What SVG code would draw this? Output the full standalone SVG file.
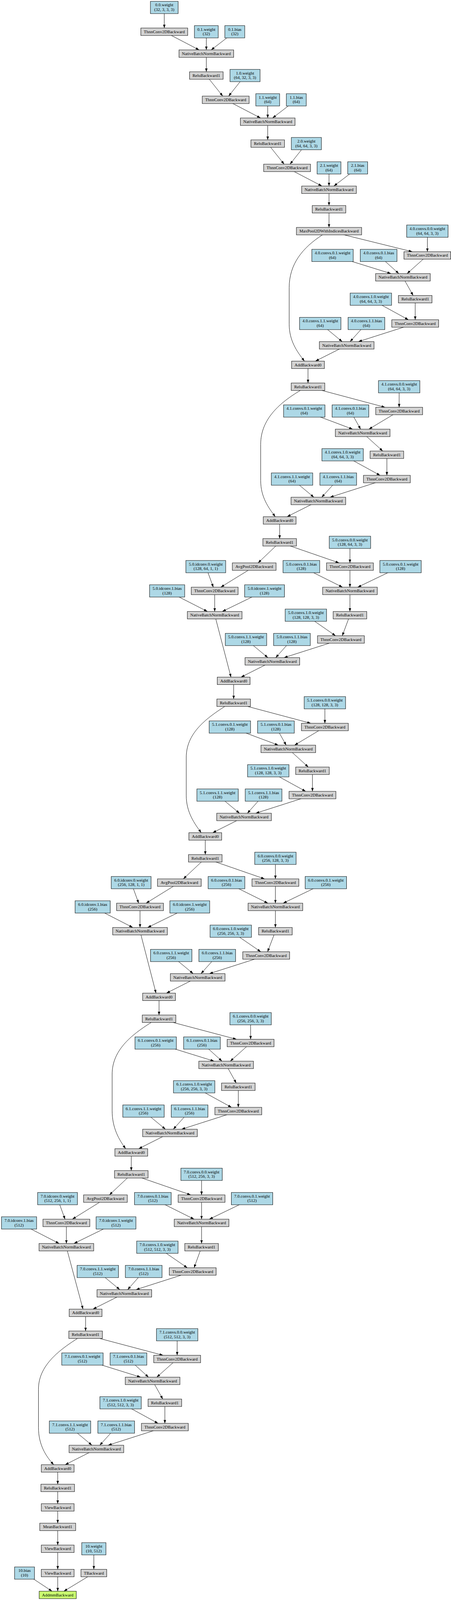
<svg xmlns="http://www.w3.org/2000/svg" width="1155" height="4392" viewBox="0 0 1155 4392">
<style>
.n rect{stroke:#000;stroke-width:1}
.g rect{fill:#d3d3d3}
.b rect{fill:#add8e6}
.o rect{fill:#caff70}
text{font-family:"Liberation Serif","Times New Roman",serif;font-size:11px;text-anchor:middle;fill:#000}
#edges path{fill:none;stroke:#000;stroke-width:1;marker-end:url(#arr)}
</style>
<defs>
<marker id="arr" markerUnits="userSpaceOnUse" markerWidth="9.2" markerHeight="6.4" viewBox="0 0 9.2 6.4" refX="9.2" refY="3.2" orient="auto"><path d="M0,0 L9.2,3.2 L0,6.4 z" fill="#000"/></marker>
</defs>
<rect width="1155" height="4392" fill="#fff"/>
<g id="diagram" transform="matrix(1,0,0,0.9322,0,0)">
<g id="edges">
<path d="M420.7,20.55 L420.7,77"/>
<path d="M420.7,87.25 L510,137.1"/>
<path d="M528.4,87.25 L528.4,137.1"/>
<path d="M601.3,87.25 L540.8,137.1"/>
<path d="M528.4,147.35 L528.4,197.2"/>
<path d="M528.4,207.45 L570.4,263.9"/>
<path d="M627.5,207.45 L585.6,263.9"/>
<path d="M578,274.15 L667.2,324"/>
<path d="M685.6,274.15 L685.6,324"/>
<path d="M758.8,274.15 L698.1,324"/>
<path d="M685.6,334.25 L685.6,384.1"/>
<path d="M685.6,394.35 L727.6,450.8"/>
<path d="M784.6,394.35 L742.8,450.8"/>
<path d="M735.2,461.05 L824.3,510.9"/>
<path d="M842.6,461.05 L842.6,510.9"/>
<path d="M916,461.05 L855.1,510.9"/>
<path d="M842.6,521.15 L842.6,564.4"/>
<path d="M842.6,574.65 L842.6,624.5"/>
<path d="M842.6,634.75 L1055.8,691.2"/>
<path d="M1094.5,634.75 L1094.5,691.2"/>
<path d="M1094.5,701.45 L1042.6,751.3"/>
<path d="M851.6,701.45 L1001.2,751.3"/>
<path d="M969.7,701.45 L1021.3,751.3"/>
<path d="M1031.9,761.55 L1058,811.4"/>
<path d="M1063.3,821.65 L1063.3,878.1"/>
<path d="M949.8,821.65 L1045.9,878.1"/>
<path d="M1063.3,888.35 L917.8,938.2"/>
<path d="M820.1,888.35 L876.3,938.2"/>
<path d="M938.4,888.35 L896.5,938.2"/>
<path d="M887.9,948.45 L807.8,991.7"/>
<path d="M826,644.8 C775,680 740.6,725 740.6,790 L740.6,890 C740.6,935 760,965 779.7,991.7"/>
<path d="M788.8,1001.95 L788.8,1051.8"/>
<path d="M788.8,1062.05 L986.3,1118.5"/>
<path d="M1022.2,1062.05 L1022.2,1118.5"/>
<path d="M1022.2,1128.75 L944.7,1178.6"/>
<path d="M779.2,1128.75 L903.3,1178.6"/>
<path d="M897.5,1128.75 L923.5,1178.6"/>
<path d="M928.8,1188.85 L980.2,1238.7"/>
<path d="M990.8,1248.95 L990.8,1305.4"/>
<path d="M877.4,1248.95 L973.4,1305.4"/>
<path d="M990.8,1315.65 L845.2,1365.5"/>
<path d="M747.9,1315.65 L803.8,1365.5"/>
<path d="M866.2,1315.65 L824,1365.5"/>
<path d="M815.3,1375.75 L735.2,1419"/>
<path d="M769,1072.3 C718,1105 667.6,1150 667.6,1220 L667.6,1320 C667.6,1365 688,1395 705,1419"/>
<path d="M716.2,1429.25 L716.2,1479.1"/>
<path d="M716.2,1489.35 L661,1545.8"/>
<path d="M716.2,1489.35 L868.5,1545.8"/>
<path d="M896.2,1489.35 L896.2,1545.8"/>
<path d="M651,1556.05 L565.4,1612.5"/>
<path d="M527,1556.05 L546.3,1612.5"/>
<path d="M896.2,1556.05 L896.2,1612.5"/>
<path d="M771.8,1556.05 L877.1,1612.5"/>
<path d="M1025.8,1556.05 L916.1,1612.5"/>
<path d="M549.8,1622.75 L549.8,1679.2"/>
<path d="M428,1622.75 L531.1,1679.2"/>
<path d="M677.5,1622.75 L569.4,1679.2"/>
<path d="M896.2,1622.75 L896.2,1679.2"/>
<path d="M896.2,1689.45 L876.6,1745.9"/>
<path d="M783.3,1689.45 L859.3,1745.9"/>
<path d="M873.1,1756.15 L727.4,1806"/>
<path d="M630,1756.15 L686,1806"/>
<path d="M747.7,1756.15 L706.1,1806"/>
<path d="M697.5,1816.25 L617.4,1859.5"/>
<path d="M552.6,1699.7 L591.5,1859.5"/>
<path d="M598.4,1869.75 L598.4,1919.6"/>
<path d="M598.4,1929.85 L796.1,1986.3"/>
<path d="M832,1929.85 L832,1986.3"/>
<path d="M832,1996.55 L754.3,2046.4"/>
<path d="M588.7,1996.55 L712.8,2046.4"/>
<path d="M706.7,1996.55 L732.9,2046.4"/>
<path d="M738.3,2056.65 L789.6,2106.5"/>
<path d="M800.2,2116.75 L800.2,2173.2"/>
<path d="M687,2116.75 L782.8,2173.2"/>
<path d="M800.2,2183.45 L654.9,2233.3"/>
<path d="M557.2,2183.45 L613.4,2233.3"/>
<path d="M675,2183.45 L633.5,2233.3"/>
<path d="M625,2243.55 L544.7,2286.8"/>
<path d="M575.6,1940.1 C525,1975 477,2015 477,2080 L477,2185 C477,2230 498,2262 515.4,2286.8"/>
<path d="M525.7,2297.05 L525.7,2346.9"/>
<path d="M525.7,2357.15 L469.5,2413.6"/>
<path d="M525.7,2357.15 L677.7,2413.6"/>
<path d="M705.3,2357.15 L705.3,2413.6"/>
<path d="M459.3,2423.85 L374.1,2480.3"/>
<path d="M335.9,2423.85 L355.1,2480.3"/>
<path d="M705.3,2423.85 L705.3,2480.3"/>
<path d="M580,2423.85 L686,2480.3"/>
<path d="M834.5,2423.85 L725.2,2480.3"/>
<path d="M358.6,2490.55 L358.6,2547"/>
<path d="M237.3,2490.55 L340,2547"/>
<path d="M486,2490.55 L378.2,2547"/>
<path d="M705.3,2490.55 L705.3,2547"/>
<path d="M705.3,2557.25 L685.3,2613.7"/>
<path d="M591,2557.25 L667.8,2613.7"/>
<path d="M681.7,2623.95 L536.2,2673.8"/>
<path d="M438.5,2623.95 L494.7,2673.8"/>
<path d="M556.3,2623.95 L514.8,2673.8"/>
<path d="M506.3,2684.05 L426.3,2727.3"/>
<path d="M361,2567.5 L399.5,2727.3"/>
<path d="M407.3,2737.55 L407.3,2787.4"/>
<path d="M407.3,2797.65 L605.8,2854.1"/>
<path d="M641.8,2797.65 L641.8,2854.1"/>
<path d="M641.8,2864.35 L589.8,2914.2"/>
<path d="M398.7,2864.35 L548.3,2914.2"/>
<path d="M517.2,2864.35 L568.5,2914.2"/>
<path d="M579.1,2924.45 L605,2974.3"/>
<path d="M610.3,2984.55 L610.3,3041"/>
<path d="M497.2,2984.55 L592.9,3041"/>
<path d="M610.3,3051.25 L465.1,3101.1"/>
<path d="M367.5,3051.25 L423.7,3101.1"/>
<path d="M485.5,3051.25 L443.9,3101.1"/>
<path d="M435.3,3111.35 L355.2,3154.6"/>
<path d="M387.2,2807.9 C335,2843 287.2,2885 287.2,2950 L287.2,3050 C287.2,3098 305,3130 321.8,3154.6"/>
<path d="M336.2,3164.85 L336.2,3214.7"/>
<path d="M336.2,3224.95 L280.2,3281.4"/>
<path d="M336.2,3224.95 L488.5,3281.4"/>
<path d="M516.2,3224.95 L516.2,3281.4"/>
<path d="M270,3291.65 L185.4,3348.1"/>
<path d="M147.3,3291.65 L166.5,3348.1"/>
<path d="M516.2,3291.65 L516.2,3348.1"/>
<path d="M391.4,3291.65 L497,3348.1"/>
<path d="M645.5,3291.65 L536.1,3348.1"/>
<path d="M170,3358.35 L170,3414.8"/>
<path d="M48.8,3358.35 L151.4,3414.8"/>
<path d="M297.1,3358.35 L189.5,3414.8"/>
<path d="M516.2,3358.35 L516.2,3414.8"/>
<path d="M516.2,3425.05 L497,3481.5"/>
<path d="M403,3425.05 L479.6,3481.5"/>
<path d="M493.5,3491.75 L348.3,3541.6"/>
<path d="M250.4,3491.75 L306.8,3541.6"/>
<path d="M368,3491.75 L326.9,3541.6"/>
<path d="M318.4,3551.85 L238.2,3595.1"/>
<path d="M172.5,3435.3 L212.5,3595.1"/>
<path d="M219.2,3605.35 L219.2,3655.2"/>
<path d="M219.2,3665.45 L417.7,3721.9"/>
<path d="M453.7,3665.45 L453.7,3721.9"/>
<path d="M453.7,3732.15 L401.5,3782"/>
<path d="M211.1,3732.15 L360.2,3782"/>
<path d="M329,3732.15 L380.3,3782"/>
<path d="M390.8,3792.25 L416.8,3842.1"/>
<path d="M422.2,3852.35 L422.2,3908.8"/>
<path d="M308.8,3852.35 L404.8,3908.8"/>
<path d="M422.2,3919.05 L276.8,3968.9"/>
<path d="M179.3,3919.05 L235.4,3968.9"/>
<path d="M297.6,3919.05 L255.5,3968.9"/>
<path d="M246.9,3979.15 L166.8,4022.4"/>
<path d="M198.4,3675.7 C148,3710 98.5,3752 98.5,3815 L98.5,3920 C98.5,3968 118,4000 137.6,4022.4"/>
<path d="M147.8,4032.65 L147.8,4075.9"/>
<path d="M147.8,4086.15 L147.8,4129.4"/>
<path d="M147.8,4139.65 L147.8,4182.9"/>
<path d="M147.8,4193.15 L147.8,4243"/>
<path d="M147.8,4253.25 L147.8,4309.7"/>
<path d="M240.3,4253.25 L240.3,4309.7"/>
<path d="M147.8,4319.95 L147.8,4369.8"/>
<path d="M240.3,4319.95 L163.6,4369.8"/>
<path d="M62.8,4319.95 L133.3,4369.8"/>
</g>
<g id="nodes">
<g id="n00" class="n b" transform="translate(420.7,20.55)"><rect x="-35.5" y="-16.85" width="71" height="33.7"/><text y="-3">0.0.weight</text><text y="9.6">(32, 3, 3, 3)</text></g>
<g id="n01" class="n g" transform="translate(420.7,87.25)"><rect x="-60" y="-10.25" width="120" height="20.5"/><text y="3.8">ThnnConv2DBackward</text></g>
<g id="n02" class="n b" transform="translate(528.4,87.25)"><rect x="-30.5" y="-16.85" width="61" height="33.7"/><text y="-3">0.1.weight</text><text y="9.6">(32)</text></g>
<g id="n03" class="n b" transform="translate(601.3,87.25)"><rect x="-25.5" y="-16.85" width="51" height="33.7"/><text y="-3">0.1.bias</text><text y="9.6">(32)</text></g>
<g id="n04" class="n g" transform="translate(528.4,147.35)"><rect x="-70" y="-10.25" width="140" height="20.5"/><text y="3.8">NativeBatchNormBackward</text></g>
<g id="n05" class="n g" transform="translate(528.4,207.45)"><rect x="-43" y="-10.25" width="86" height="20.5"/><text y="3.8">ReluBackward1</text></g>
<g id="n06" class="n b" transform="translate(627.5,207.45)"><rect x="-38.5" y="-16.85" width="77" height="33.7"/><text y="-3">1.0.weight</text><text y="9.6">(64, 32, 3, 3)</text></g>
<g id="n07" class="n g" transform="translate(578,274.15)"><rect x="-60" y="-10.25" width="120" height="20.5"/><text y="3.8">ThnnConv2DBackward</text></g>
<g id="n08" class="n b" transform="translate(685.6,274.15)"><rect x="-30.5" y="-16.85" width="61" height="33.7"/><text y="-3">1.1.weight</text><text y="9.6">(64)</text></g>
<g id="n09" class="n b" transform="translate(758.8,274.15)"><rect x="-25.5" y="-16.85" width="51" height="33.7"/><text y="-3">1.1.bias</text><text y="9.6">(64)</text></g>
<g id="n10" class="n g" transform="translate(685.6,334.25)"><rect x="-70" y="-10.25" width="140" height="20.5"/><text y="3.8">NativeBatchNormBackward</text></g>
<g id="n11" class="n g" transform="translate(685.6,394.35)"><rect x="-43" y="-10.25" width="86" height="20.5"/><text y="3.8">ReluBackward1</text></g>
<g id="n12" class="n b" transform="translate(784.6,394.35)"><rect x="-38.5" y="-16.85" width="77" height="33.7"/><text y="-3">2.0.weight</text><text y="9.6">(64, 64, 3, 3)</text></g>
<g id="n13" class="n g" transform="translate(735.2,461.05)"><rect x="-60" y="-10.25" width="120" height="20.5"/><text y="3.8">ThnnConv2DBackward</text></g>
<g id="n14" class="n b" transform="translate(842.6,461.05)"><rect x="-30.5" y="-16.85" width="61" height="33.7"/><text y="-3">2.1.weight</text><text y="9.6">(64)</text></g>
<g id="n15" class="n b" transform="translate(916,461.05)"><rect x="-25.5" y="-16.85" width="51" height="33.7"/><text y="-3">2.1.bias</text><text y="9.6">(64)</text></g>
<g id="n16" class="n g" transform="translate(842.6,521.15)"><rect x="-70" y="-10.25" width="140" height="20.5"/><text y="3.8">NativeBatchNormBackward</text></g>
<g id="n17" class="n g" transform="translate(842.6,574.65)"><rect x="-43" y="-10.25" width="86" height="20.5"/><text y="3.8">ReluBackward1</text></g>
<g id="n18" class="n g" transform="translate(842.6,634.75)"><rect x="-83.5" y="-10.25" width="167" height="20.5"/><text y="3.8">MaxPool2DWithIndicesBackward</text></g>
<g id="n19" class="n b" transform="translate(1094.5,634.75)"><rect x="-53" y="-16.85" width="106" height="33.7"/><text y="-3">4.0.convs.0.0.weight</text><text y="9.6">(64, 64, 3, 3)</text></g>
<g id="n20" class="n g" transform="translate(1094.5,701.45)"><rect x="-60" y="-10.25" width="120" height="20.5"/><text y="3.8">ThnnConv2DBackward</text></g>
<g id="n21" class="n b" transform="translate(851.6,701.45)"><rect x="-53" y="-16.85" width="106" height="33.7"/><text y="-3">4.0.convs.0.1.weight</text><text y="9.6">(64)</text></g>
<g id="n22" class="n b" transform="translate(969.7,701.45)"><rect x="-47" y="-16.85" width="94" height="33.7"/><text y="-3">4.0.convs.0.1.bias</text><text y="9.6">(64)</text></g>
<g id="n23" class="n g" transform="translate(1031.9,761.55)"><rect x="-70" y="-10.25" width="140" height="20.5"/><text y="3.8">NativeBatchNormBackward</text></g>
<g id="n24" class="n g" transform="translate(1063.3,821.65)"><rect x="-43" y="-10.25" width="86" height="20.5"/><text y="3.8">ReluBackward1</text></g>
<g id="n25" class="n b" transform="translate(949.8,821.65)"><rect x="-53" y="-16.85" width="106" height="33.7"/><text y="-3">4.0.convs.1.0.weight</text><text y="9.6">(64, 64, 3, 3)</text></g>
<g id="n26" class="n g" transform="translate(1063.3,888.35)"><rect x="-60" y="-10.25" width="120" height="20.5"/><text y="3.8">ThnnConv2DBackward</text></g>
<g id="n27" class="n b" transform="translate(820.1,888.35)"><rect x="-53" y="-16.85" width="106" height="33.7"/><text y="-3">4.0.convs.1.1.weight</text><text y="9.6">(64)</text></g>
<g id="n28" class="n b" transform="translate(938.4,888.35)"><rect x="-47" y="-16.85" width="94" height="33.7"/><text y="-3">4.0.convs.1.1.bias</text><text y="9.6">(64)</text></g>
<g id="n29" class="n g" transform="translate(887.9,948.45)"><rect x="-70" y="-10.25" width="140" height="20.5"/><text y="3.8">NativeBatchNormBackward</text></g>
<g id="n30" class="n g" transform="translate(788.8,1001.95)"><rect x="-42" y="-10.25" width="84" height="20.5"/><text y="3.8">AddBackward0</text></g>
<g id="n31" class="n g" transform="translate(788.8,1062.05)"><rect x="-43" y="-10.25" width="86" height="20.5"/><text y="3.8">ReluBackward1</text></g>
<g id="n32" class="n b" transform="translate(1022.2,1062.05)"><rect x="-53" y="-16.85" width="106" height="33.7"/><text y="-3">4.1.convs.0.0.weight</text><text y="9.6">(64, 64, 3, 3)</text></g>
<g id="n33" class="n g" transform="translate(1022.2,1128.75)"><rect x="-60" y="-10.25" width="120" height="20.5"/><text y="3.8">ThnnConv2DBackward</text></g>
<g id="n34" class="n b" transform="translate(779.2,1128.75)"><rect x="-53" y="-16.85" width="106" height="33.7"/><text y="-3">4.1.convs.0.1.weight</text><text y="9.6">(64)</text></g>
<g id="n35" class="n b" transform="translate(897.5,1128.75)"><rect x="-47" y="-16.85" width="94" height="33.7"/><text y="-3">4.1.convs.0.1.bias</text><text y="9.6">(64)</text></g>
<g id="n36" class="n g" transform="translate(928.8,1188.85)"><rect x="-70" y="-10.25" width="140" height="20.5"/><text y="3.8">NativeBatchNormBackward</text></g>
<g id="n37" class="n g" transform="translate(990.8,1248.95)"><rect x="-43" y="-10.25" width="86" height="20.5"/><text y="3.8">ReluBackward1</text></g>
<g id="n38" class="n b" transform="translate(877.4,1248.95)"><rect x="-53" y="-16.85" width="106" height="33.7"/><text y="-3">4.1.convs.1.0.weight</text><text y="9.6">(64, 64, 3, 3)</text></g>
<g id="n39" class="n g" transform="translate(990.8,1315.65)"><rect x="-60" y="-10.25" width="120" height="20.5"/><text y="3.8">ThnnConv2DBackward</text></g>
<g id="n40" class="n b" transform="translate(747.9,1315.65)"><rect x="-53" y="-16.85" width="106" height="33.7"/><text y="-3">4.1.convs.1.1.weight</text><text y="9.6">(64)</text></g>
<g id="n41" class="n b" transform="translate(866.2,1315.65)"><rect x="-47" y="-16.85" width="94" height="33.7"/><text y="-3">4.1.convs.1.1.bias</text><text y="9.6">(64)</text></g>
<g id="n42" class="n g" transform="translate(815.3,1375.75)"><rect x="-70" y="-10.25" width="140" height="20.5"/><text y="3.8">NativeBatchNormBackward</text></g>
<g id="n43" class="n g" transform="translate(716.2,1429.25)"><rect x="-42" y="-10.25" width="84" height="20.5"/><text y="3.8">AddBackward0</text></g>
<g id="n44" class="n g" transform="translate(716.2,1489.35)"><rect x="-43" y="-10.25" width="86" height="20.5"/><text y="3.8">ReluBackward1</text></g>
<g id="n45" class="n b" transform="translate(896.2,1489.35)"><rect x="-53" y="-16.85" width="106" height="33.7"/><text y="-3">5.0.convs.0.0.weight</text><text y="9.6">(128, 64, 3, 3)</text></g>
<g id="n46" class="n g" transform="translate(651,1556.05)"><rect x="-56" y="-10.25" width="112" height="20.5"/><text y="3.8">AvgPool2DBackward</text></g>
<g id="n47" class="n b" transform="translate(527,1556.05)"><rect x="-51" y="-16.85" width="102" height="33.7"/><text y="-3">5.0.idconv.0.weight</text><text y="9.6">(128, 64, 1, 1)</text></g>
<g id="n48" class="n g" transform="translate(896.2,1556.05)"><rect x="-60" y="-10.25" width="120" height="20.5"/><text y="3.8">ThnnConv2DBackward</text></g>
<g id="n49" class="n b" transform="translate(771.8,1556.05)"><rect x="-47" y="-16.85" width="94" height="33.7"/><text y="-3">5.0.convs.0.1.bias</text><text y="9.6">(128)</text></g>
<g id="n50" class="n b" transform="translate(1025.8,1556.05)"><rect x="-53" y="-16.85" width="106" height="33.7"/><text y="-3">5.0.convs.0.1.weight</text><text y="9.6">(128)</text></g>
<g id="n51" class="n g" transform="translate(549.8,1622.75)"><rect x="-60" y="-10.25" width="120" height="20.5"/><text y="3.8">ThnnConv2DBackward</text></g>
<g id="n52" class="n b" transform="translate(428,1622.75)"><rect x="-45" y="-16.85" width="90" height="33.7"/><text y="-3">5.0.idconv.1.bias</text><text y="9.6">(128)</text></g>
<g id="n53" class="n b" transform="translate(677.5,1622.75)"><rect x="-51" y="-16.85" width="102" height="33.7"/><text y="-3">5.0.idconv.1.weight</text><text y="9.6">(128)</text></g>
<g id="n54" class="n g" transform="translate(896.2,1622.75)"><rect x="-70" y="-10.25" width="140" height="20.5"/><text y="3.8">NativeBatchNormBackward</text></g>
<g id="n55" class="n g" transform="translate(549.8,1689.45)"><rect x="-70" y="-10.25" width="140" height="20.5"/><text y="3.8">NativeBatchNormBackward</text></g>
<g id="n56" class="n g" transform="translate(896.2,1689.45)"><rect x="-43" y="-10.25" width="86" height="20.5"/><text y="3.8">ReluBackward1</text></g>
<g id="n57" class="n b" transform="translate(783.3,1689.45)"><rect x="-53" y="-16.85" width="106" height="33.7"/><text y="-3">5.0.convs.1.0.weight</text><text y="9.6">(128, 128, 3, 3)</text></g>
<g id="n58" class="n g" transform="translate(873.1,1756.15)"><rect x="-60" y="-10.25" width="120" height="20.5"/><text y="3.8">ThnnConv2DBackward</text></g>
<g id="n59" class="n b" transform="translate(630,1756.15)"><rect x="-53" y="-16.85" width="106" height="33.7"/><text y="-3">5.0.convs.1.1.weight</text><text y="9.6">(128)</text></g>
<g id="n60" class="n b" transform="translate(747.7,1756.15)"><rect x="-47" y="-16.85" width="94" height="33.7"/><text y="-3">5.0.convs.1.1.bias</text><text y="9.6">(128)</text></g>
<g id="n61" class="n g" transform="translate(697.5,1816.25)"><rect x="-70" y="-10.25" width="140" height="20.5"/><text y="3.8">NativeBatchNormBackward</text></g>
<g id="n62" class="n g" transform="translate(598.4,1869.75)"><rect x="-42" y="-10.25" width="84" height="20.5"/><text y="3.8">AddBackward0</text></g>
<g id="n63" class="n g" transform="translate(598.4,1929.85)"><rect x="-43" y="-10.25" width="86" height="20.5"/><text y="3.8">ReluBackward1</text></g>
<g id="n64" class="n b" transform="translate(832,1929.85)"><rect x="-53" y="-16.85" width="106" height="33.7"/><text y="-3">5.1.convs.0.0.weight</text><text y="9.6">(128, 128, 3, 3)</text></g>
<g id="n65" class="n g" transform="translate(832,1996.55)"><rect x="-60" y="-10.25" width="120" height="20.5"/><text y="3.8">ThnnConv2DBackward</text></g>
<g id="n66" class="n b" transform="translate(588.7,1996.55)"><rect x="-53" y="-16.85" width="106" height="33.7"/><text y="-3">5.1.convs.0.1.weight</text><text y="9.6">(128)</text></g>
<g id="n67" class="n b" transform="translate(706.7,1996.55)"><rect x="-47" y="-16.85" width="94" height="33.7"/><text y="-3">5.1.convs.0.1.bias</text><text y="9.6">(128)</text></g>
<g id="n68" class="n g" transform="translate(738.3,2056.65)"><rect x="-70" y="-10.25" width="140" height="20.5"/><text y="3.8">NativeBatchNormBackward</text></g>
<g id="n69" class="n g" transform="translate(800.2,2116.75)"><rect x="-43" y="-10.25" width="86" height="20.5"/><text y="3.8">ReluBackward1</text></g>
<g id="n70" class="n b" transform="translate(687,2116.75)"><rect x="-53" y="-16.85" width="106" height="33.7"/><text y="-3">5.1.convs.1.0.weight</text><text y="9.6">(128, 128, 3, 3)</text></g>
<g id="n71" class="n g" transform="translate(800.2,2183.45)"><rect x="-60" y="-10.25" width="120" height="20.5"/><text y="3.8">ThnnConv2DBackward</text></g>
<g id="n72" class="n b" transform="translate(557.2,2183.45)"><rect x="-53" y="-16.85" width="106" height="33.7"/><text y="-3">5.1.convs.1.1.weight</text><text y="9.6">(128)</text></g>
<g id="n73" class="n b" transform="translate(675,2183.45)"><rect x="-47" y="-16.85" width="94" height="33.7"/><text y="-3">5.1.convs.1.1.bias</text><text y="9.6">(128)</text></g>
<g id="n74" class="n g" transform="translate(625,2243.55)"><rect x="-70" y="-10.25" width="140" height="20.5"/><text y="3.8">NativeBatchNormBackward</text></g>
<g id="n75" class="n g" transform="translate(525.7,2297.05)"><rect x="-42" y="-10.25" width="84" height="20.5"/><text y="3.8">AddBackward0</text></g>
<g id="n76" class="n g" transform="translate(525.7,2357.15)"><rect x="-43" y="-10.25" width="86" height="20.5"/><text y="3.8">ReluBackward1</text></g>
<g id="n77" class="n b" transform="translate(705.3,2357.15)"><rect x="-53" y="-16.85" width="106" height="33.7"/><text y="-3">6.0.convs.0.0.weight</text><text y="9.6">(256, 128, 3, 3)</text></g>
<g id="n78" class="n g" transform="translate(459.3,2423.85)"><rect x="-56" y="-10.25" width="112" height="20.5"/><text y="3.8">AvgPool2DBackward</text></g>
<g id="n79" class="n b" transform="translate(335.9,2423.85)"><rect x="-51" y="-16.85" width="102" height="33.7"/><text y="-3">6.0.idconv.0.weight</text><text y="9.6">(256, 128, 1, 1)</text></g>
<g id="n80" class="n g" transform="translate(705.3,2423.85)"><rect x="-60" y="-10.25" width="120" height="20.5"/><text y="3.8">ThnnConv2DBackward</text></g>
<g id="n81" class="n b" transform="translate(580,2423.85)"><rect x="-47" y="-16.85" width="94" height="33.7"/><text y="-3">6.0.convs.0.1.bias</text><text y="9.6">(256)</text></g>
<g id="n82" class="n b" transform="translate(834.5,2423.85)"><rect x="-53" y="-16.85" width="106" height="33.7"/><text y="-3">6.0.convs.0.1.weight</text><text y="9.6">(256)</text></g>
<g id="n83" class="n g" transform="translate(358.6,2490.55)"><rect x="-60" y="-10.25" width="120" height="20.5"/><text y="3.8">ThnnConv2DBackward</text></g>
<g id="n84" class="n b" transform="translate(237.3,2490.55)"><rect x="-45" y="-16.85" width="90" height="33.7"/><text y="-3">6.0.idconv.1.bias</text><text y="9.6">(256)</text></g>
<g id="n85" class="n b" transform="translate(486,2490.55)"><rect x="-51" y="-16.85" width="102" height="33.7"/><text y="-3">6.0.idconv.1.weight</text><text y="9.6">(256)</text></g>
<g id="n86" class="n g" transform="translate(705.3,2490.55)"><rect x="-70" y="-10.25" width="140" height="20.5"/><text y="3.8">NativeBatchNormBackward</text></g>
<g id="n87" class="n g" transform="translate(358.6,2557.25)"><rect x="-70" y="-10.25" width="140" height="20.5"/><text y="3.8">NativeBatchNormBackward</text></g>
<g id="n88" class="n b" transform="translate(591,2557.25)"><rect x="-53" y="-16.85" width="106" height="33.7"/><text y="-3">6.0.convs.1.0.weight</text><text y="9.6">(256, 256, 3, 3)</text></g>
<g id="n89" class="n g" transform="translate(705.3,2557.25)"><rect x="-43" y="-10.25" width="86" height="20.5"/><text y="3.8">ReluBackward1</text></g>
<g id="n90" class="n g" transform="translate(681.7,2623.95)"><rect x="-60" y="-10.25" width="120" height="20.5"/><text y="3.8">ThnnConv2DBackward</text></g>
<g id="n91" class="n b" transform="translate(438.5,2623.95)"><rect x="-53" y="-16.85" width="106" height="33.7"/><text y="-3">6.0.convs.1.1.weight</text><text y="9.6">(256)</text></g>
<g id="n92" class="n b" transform="translate(556.3,2623.95)"><rect x="-47" y="-16.85" width="94" height="33.7"/><text y="-3">6.0.convs.1.1.bias</text><text y="9.6">(256)</text></g>
<g id="n93" class="n g" transform="translate(506.3,2684.05)"><rect x="-70" y="-10.25" width="140" height="20.5"/><text y="3.8">NativeBatchNormBackward</text></g>
<g id="n94" class="n g" transform="translate(407.3,2737.55)"><rect x="-42" y="-10.25" width="84" height="20.5"/><text y="3.8">AddBackward0</text></g>
<g id="n95" class="n g" transform="translate(407.3,2797.65)"><rect x="-43" y="-10.25" width="86" height="20.5"/><text y="3.8">ReluBackward1</text></g>
<g id="n96" class="n b" transform="translate(641.8,2797.65)"><rect x="-53" y="-16.85" width="106" height="33.7"/><text y="-3">6.1.convs.0.0.weight</text><text y="9.6">(256, 256, 3, 3)</text></g>
<g id="n97" class="n g" transform="translate(641.8,2864.35)"><rect x="-60" y="-10.25" width="120" height="20.5"/><text y="3.8">ThnnConv2DBackward</text></g>
<g id="n98" class="n b" transform="translate(398.7,2864.35)"><rect x="-53" y="-16.85" width="106" height="33.7"/><text y="-3">6.1.convs.0.1.weight</text><text y="9.6">(256)</text></g>
<g id="n99" class="n b" transform="translate(517.2,2864.35)"><rect x="-47" y="-16.85" width="94" height="33.7"/><text y="-3">6.1.convs.0.1.bias</text><text y="9.6">(256)</text></g>
<g id="n100" class="n g" transform="translate(579.1,2924.45)"><rect x="-70" y="-10.25" width="140" height="20.5"/><text y="3.8">NativeBatchNormBackward</text></g>
<g id="n101" class="n g" transform="translate(610.3,2984.55)"><rect x="-43" y="-10.25" width="86" height="20.5"/><text y="3.8">ReluBackward1</text></g>
<g id="n102" class="n b" transform="translate(497.2,2984.55)"><rect x="-53" y="-16.85" width="106" height="33.7"/><text y="-3">6.1.convs.1.0.weight</text><text y="9.6">(256, 256, 3, 3)</text></g>
<g id="n103" class="n g" transform="translate(610.3,3051.25)"><rect x="-60" y="-10.25" width="120" height="20.5"/><text y="3.8">ThnnConv2DBackward</text></g>
<g id="n104" class="n b" transform="translate(367.5,3051.25)"><rect x="-53" y="-16.85" width="106" height="33.7"/><text y="-3">6.1.convs.1.1.weight</text><text y="9.6">(256)</text></g>
<g id="n105" class="n b" transform="translate(485.5,3051.25)"><rect x="-47" y="-16.85" width="94" height="33.7"/><text y="-3">6.1.convs.1.1.bias</text><text y="9.6">(256)</text></g>
<g id="n106" class="n g" transform="translate(435.3,3111.35)"><rect x="-70" y="-10.25" width="140" height="20.5"/><text y="3.8">NativeBatchNormBackward</text></g>
<g id="n107" class="n g" transform="translate(336.2,3164.85)"><rect x="-42" y="-10.25" width="84" height="20.5"/><text y="3.8">AddBackward0</text></g>
<g id="n108" class="n g" transform="translate(336.2,3224.95)"><rect x="-43" y="-10.25" width="86" height="20.5"/><text y="3.8">ReluBackward1</text></g>
<g id="n109" class="n b" transform="translate(516.2,3224.95)"><rect x="-53" y="-16.85" width="106" height="33.7"/><text y="-3">7.0.convs.0.0.weight</text><text y="9.6">(512, 256, 3, 3)</text></g>
<g id="n110" class="n g" transform="translate(270,3291.65)"><rect x="-56" y="-10.25" width="112" height="20.5"/><text y="3.8">AvgPool2DBackward</text></g>
<g id="n111" class="n b" transform="translate(147.3,3291.65)"><rect x="-51" y="-16.85" width="102" height="33.7"/><text y="-3">7.0.idconv.0.weight</text><text y="9.6">(512, 256, 1, 1)</text></g>
<g id="n112" class="n g" transform="translate(516.2,3291.65)"><rect x="-60" y="-10.25" width="120" height="20.5"/><text y="3.8">ThnnConv2DBackward</text></g>
<g id="n113" class="n b" transform="translate(391.4,3291.65)"><rect x="-47" y="-16.85" width="94" height="33.7"/><text y="-3">7.0.convs.0.1.bias</text><text y="9.6">(512)</text></g>
<g id="n114" class="n b" transform="translate(645.5,3291.65)"><rect x="-53" y="-16.85" width="106" height="33.7"/><text y="-3">7.0.convs.0.1.weight</text><text y="9.6">(512)</text></g>
<g id="n115" class="n g" transform="translate(170,3358.35)"><rect x="-60" y="-10.25" width="120" height="20.5"/><text y="3.8">ThnnConv2DBackward</text></g>
<g id="n116" class="n b" transform="translate(48.8,3358.35)"><rect x="-45" y="-16.85" width="90" height="33.7"/><text y="-3">7.0.idconv.1.bias</text><text y="9.6">(512)</text></g>
<g id="n117" class="n b" transform="translate(297.1,3358.35)"><rect x="-51" y="-16.85" width="102" height="33.7"/><text y="-3">7.0.idconv.1.weight</text><text y="9.6">(512)</text></g>
<g id="n118" class="n g" transform="translate(516.2,3358.35)"><rect x="-70" y="-10.25" width="140" height="20.5"/><text y="3.8">NativeBatchNormBackward</text></g>
<g id="n119" class="n g" transform="translate(170,3425.05)"><rect x="-70" y="-10.25" width="140" height="20.5"/><text y="3.8">NativeBatchNormBackward</text></g>
<g id="n120" class="n b" transform="translate(403,3425.05)"><rect x="-53" y="-16.85" width="106" height="33.7"/><text y="-3">7.0.convs.1.0.weight</text><text y="9.6">(512, 512, 3, 3)</text></g>
<g id="n121" class="n g" transform="translate(516.2,3425.05)"><rect x="-43" y="-10.25" width="86" height="20.5"/><text y="3.8">ReluBackward1</text></g>
<g id="n122" class="n g" transform="translate(493.5,3491.75)"><rect x="-60" y="-10.25" width="120" height="20.5"/><text y="3.8">ThnnConv2DBackward</text></g>
<g id="n123" class="n b" transform="translate(250.4,3491.75)"><rect x="-53" y="-16.85" width="106" height="33.7"/><text y="-3">7.0.convs.1.1.weight</text><text y="9.6">(512)</text></g>
<g id="n124" class="n b" transform="translate(368,3491.75)"><rect x="-47" y="-16.85" width="94" height="33.7"/><text y="-3">7.0.convs.1.1.bias</text><text y="9.6">(512)</text></g>
<g id="n125" class="n g" transform="translate(318.4,3551.85)"><rect x="-70" y="-10.25" width="140" height="20.5"/><text y="3.8">NativeBatchNormBackward</text></g>
<g id="n126" class="n g" transform="translate(219.2,3605.35)"><rect x="-42" y="-10.25" width="84" height="20.5"/><text y="3.8">AddBackward0</text></g>
<g id="n127" class="n g" transform="translate(219.2,3665.45)"><rect x="-43" y="-10.25" width="86" height="20.5"/><text y="3.8">ReluBackward1</text></g>
<g id="n128" class="n b" transform="translate(453.7,3665.45)"><rect x="-53" y="-16.85" width="106" height="33.7"/><text y="-3">7.1.convs.0.0.weight</text><text y="9.6">(512, 512, 3, 3)</text></g>
<g id="n129" class="n g" transform="translate(453.7,3732.15)"><rect x="-60" y="-10.25" width="120" height="20.5"/><text y="3.8">ThnnConv2DBackward</text></g>
<g id="n130" class="n b" transform="translate(211.1,3732.15)"><rect x="-53" y="-16.85" width="106" height="33.7"/><text y="-3">7.1.convs.0.1.weight</text><text y="9.6">(512)</text></g>
<g id="n131" class="n b" transform="translate(329,3732.15)"><rect x="-47" y="-16.85" width="94" height="33.7"/><text y="-3">7.1.convs.0.1.bias</text><text y="9.6">(512)</text></g>
<g id="n132" class="n g" transform="translate(390.8,3792.25)"><rect x="-70" y="-10.25" width="140" height="20.5"/><text y="3.8">NativeBatchNormBackward</text></g>
<g id="n133" class="n g" transform="translate(422.2,3852.35)"><rect x="-43" y="-10.25" width="86" height="20.5"/><text y="3.8">ReluBackward1</text></g>
<g id="n134" class="n b" transform="translate(308.8,3852.35)"><rect x="-53" y="-16.85" width="106" height="33.7"/><text y="-3">7.1.convs.1.0.weight</text><text y="9.6">(512, 512, 3, 3)</text></g>
<g id="n135" class="n g" transform="translate(422.2,3919.05)"><rect x="-60" y="-10.25" width="120" height="20.5"/><text y="3.8">ThnnConv2DBackward</text></g>
<g id="n136" class="n b" transform="translate(179.3,3919.05)"><rect x="-53" y="-16.85" width="106" height="33.7"/><text y="-3">7.1.convs.1.1.weight</text><text y="9.6">(512)</text></g>
<g id="n137" class="n b" transform="translate(297.6,3919.05)"><rect x="-47" y="-16.85" width="94" height="33.7"/><text y="-3">7.1.convs.1.1.bias</text><text y="9.6">(512)</text></g>
<g id="n138" class="n g" transform="translate(246.9,3979.15)"><rect x="-70" y="-10.25" width="140" height="20.5"/><text y="3.8">NativeBatchNormBackward</text></g>
<g id="n139" class="n g" transform="translate(147.8,4032.65)"><rect x="-42" y="-10.25" width="84" height="20.5"/><text y="3.8">AddBackward0</text></g>
<g id="n140" class="n g" transform="translate(147.8,4086.15)"><rect x="-43" y="-10.25" width="86" height="20.5"/><text y="3.8">ReluBackward1</text></g>
<g id="n141" class="n g" transform="translate(147.8,4139.65)"><rect x="-42" y="-10.25" width="84" height="20.5"/><text y="3.8">ViewBackward</text></g>
<g id="n142" class="n g" transform="translate(147.8,4193.15)"><rect x="-46" y="-10.25" width="92" height="20.5"/><text y="3.8">MeanBackward1</text></g>
<g id="n143" class="n g" transform="translate(147.8,4253.25)"><rect x="-42" y="-10.25" width="84" height="20.5"/><text y="3.8">ViewBackward</text></g>
<g id="n144" class="n b" transform="translate(240.3,4253.25)"><rect x="-31" y="-16.85" width="62" height="33.7"/><text y="-3">10.weight</text><text y="9.6">(10, 512)</text></g>
<g id="n145" class="n g" transform="translate(147.8,4319.95)"><rect x="-42" y="-10.25" width="84" height="20.5"/><text y="3.8">ViewBackward</text></g>
<g id="n146" class="n g" transform="translate(240.3,4319.95)"><rect x="-33" y="-10.25" width="66" height="20.5"/><text y="3.8">TBackward</text></g>
<g id="n147" class="n b" transform="translate(62.8,4319.95)"><rect x="-25.5" y="-16.85" width="51" height="33.7"/><text y="-3">10.bias</text><text y="9.6">(10)</text></g>
<g id="n148" class="n o" transform="translate(147.8,4380.05)"><rect x="-47.5" y="-10.25" width="95" height="20.5"/><text y="3.8">AddmmBackward</text></g>
</g>
</g>
</svg>
